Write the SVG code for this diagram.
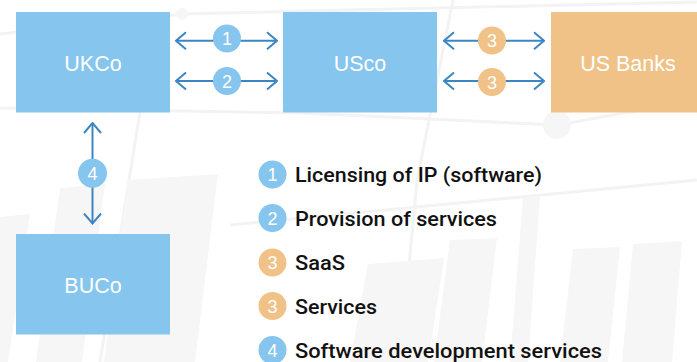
<svg xmlns="http://www.w3.org/2000/svg" width="697" height="362" viewBox="0 0 697 362">
  <defs>
    <marker id="chev" viewBox="0 0 12 20" refX="11" refY="10" markerWidth="12" markerHeight="20" markerUnits="userSpaceOnUse" orient="auto-start-reverse">
      <path d="M1,1.5 L11,10 L1,18.5" fill="none" stroke="#3d86c1" stroke-width="2"/>
    </marker>
  </defs>
  <style>
    .bg { fill: #f6f6f6; }
    .bgline { stroke: #f3f3f3; stroke-width: 3; fill: none; }
    .blue { fill: #86c5ee; }
    .orange { fill: #f0c288; }
    .label { font-family: "Liberation Sans", Arial, sans-serif; font-size: 21.5px; fill: #ffffff; text-anchor: middle; }
    .num { font-family: "Liberation Sans", Arial, sans-serif; font-size: 18px; fill: #ffffff; text-anchor: middle; }
    .legend { font-family: Roboto, "Liberation Sans", Arial, sans-serif; font-size: 19.5px; font-weight: 500; fill: #111111; }
    .conn { stroke: #3d86c1; stroke-width: 2; fill: none; marker-start: url(#chev); marker-end: url(#chev); }
  </style>

  <rect width="697" height="362" fill="#ffffff"/>

  <!-- faint backdrop: network lines and leaning bars -->
  <g id="backdrop">
    <path class="bgline" d="M0,34 L182,14 L697,2"/>
    <path class="bgline" d="M0,108 L300,113 L557,125 L697,100"/>
    <path class="bgline" d="M453,0 L417,180 L400,362"/>
    <path class="bgline" d="M140,112 L100,362"/>
    <path class="bgline" d="M230,225 L697,180"/>
    <circle class="bg" cx="182" cy="14" r="6"/>
    <circle class="bg" cx="557" cy="125" r="14"/>
    <polygon class="bg" points="0,217 30,214 8,362 0,362"/>
    <polygon class="bg" points="60,188 105,184 82,362 36,362"/>
    <polygon class="bg" points="128,180 218,174 195,362 104,362"/>
    <polygon class="bg" points="368,264 444,258 428,362 350,362"/>
    <polygon class="bg" points="450,240 497,238 482,362 434,362"/>
    <polygon class="bg" points="523,197 540,196 528,362 510,362"/>
    <polygon class="bg" points="573,249 620,247 608,362 560,362"/>
    <polygon class="bg" points="633,244 682,241 672,362 622,362"/>
  </g>

  <!-- connectors -->
  <g id="connectors">
    <line class="conn" x1="176" y1="40.7" x2="277" y2="40.7"/>
    <line class="conn" x1="176" y1="81" x2="277" y2="81"/>
    <line class="conn" x1="444" y1="40.7" x2="544" y2="40.7"/>
    <line class="conn" x1="444" y1="81" x2="544" y2="81"/>
    <line class="conn" x1="92.5" y1="123" x2="92.5" y2="223.5"/>

    <g id="badge-1"><circle class="blue" cx="227" cy="38.5" r="14"/><text class="num" x="227" y="45">1</text></g>
    <g id="badge-2"><circle class="blue" cx="227" cy="81" r="14"/><text class="num" x="227" y="87.5">2</text></g>
    <g id="badge-3a"><circle class="orange" cx="492" cy="40.5" r="14"/><text class="num" x="492" y="47">3</text></g>
    <g id="badge-3b"><circle class="orange" cx="492" cy="82" r="14"/><text class="num" x="492" y="88.5">3</text></g>
    <g id="badge-4"><circle class="blue" cx="92.5" cy="173.3" r="14.5"/><text class="num" x="92.5" y="180">4</text></g>
  </g>

  <!-- nodes -->
  <g id="ukco">
    <rect class="blue" x="16" y="12" width="154" height="100.5"/>
    <text class="label" x="93" y="71">UKCo</text>
  </g>
  <g id="usco">
    <rect class="blue" x="283" y="12" width="154" height="100.5"/>
    <text class="label" x="360" y="71">USco</text>
  </g>
  <g id="us-banks">
    <rect class="orange" x="551" y="12" width="154" height="100.5"/>
    <text class="label" x="628" y="71">US Banks</text>
  </g>
  <g id="buco">
    <rect class="blue" x="16" y="234" width="154" height="100.5"/>
    <text class="label" x="93" y="292.5">BUCo</text>
  </g>

  <!-- key -->
  <g id="legend">
    <circle class="blue" cx="272.5" cy="174.5" r="14"/><text class="num" x="272.5" y="181">1</text>
    <text class="legend" x="295" y="182" textLength="247" lengthAdjust="spacingAndGlyphs">Licensing of IP (software)</text>
    <circle class="blue" cx="272.5" cy="218" r="14"/><text class="num" x="272.5" y="224.5">2</text>
    <text class="legend" x="295" y="225.5" textLength="202" lengthAdjust="spacingAndGlyphs">Provision of services</text>
    <circle class="orange" cx="272.5" cy="262.5" r="14"/><text class="num" x="272.5" y="269">3</text>
    <text class="legend" x="295" y="270" textLength="50" lengthAdjust="spacingAndGlyphs">SaaS</text>
    <circle class="orange" cx="272.5" cy="306" r="14"/><text class="num" x="272.5" y="312.5">3</text>
    <text class="legend" x="295" y="313.5" textLength="82" lengthAdjust="spacingAndGlyphs">Services</text>
    <circle class="blue" cx="272.5" cy="350" r="14"/><text class="num" x="272.5" y="356.5">4</text>
    <text class="legend" x="295" y="357.5" textLength="307" lengthAdjust="spacingAndGlyphs">Software development services</text>
  </g>
</svg>
